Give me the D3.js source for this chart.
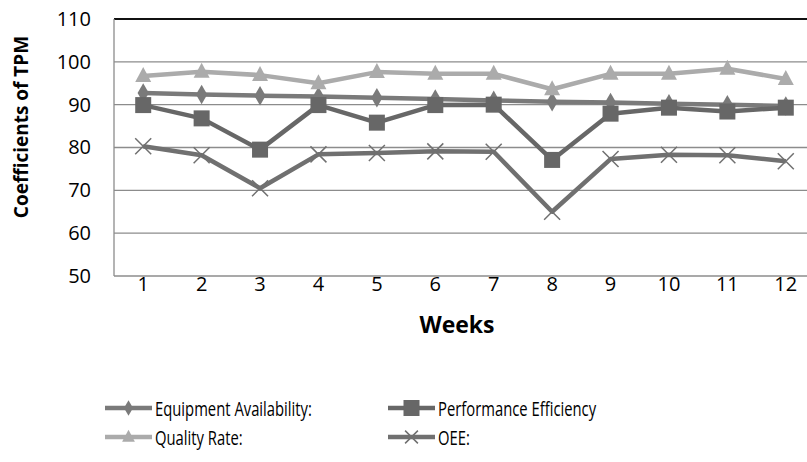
<!DOCTYPE html>
<html><head><meta charset="utf-8">
<script src="https://cdn.jsdelivr.net/npm/d3@7"></script>
<style>body{margin:0;background:#fff}svg{display:block}text{font-family:"Open Sans",sans-serif}</style>
</head><body>
<svg id="c" width="807" height="462"></svg>
<script>
const weeks = [1,2,3,4,5,6,7,8,9,10,11,12];
const equipmentAvailability = [92.7,92.4,92.1,91.9,91.6,91.3,91.0,90.7,90.5,90.2,90.0,89.7];
const performanceEfficiency = [89.9,86.8,79.5,89.9,85.8,89.9,90.0,77.1,87.9,89.3,88.4,89.3];
const qualityRate = [96.7,97.7,96.9,95.0,97.6,97.2,97.2,93.6,97.2,97.2,98.4,96.0];
const oee = [80.3,78.2,70.5,78.4,78.7,79.1,79.0,65.0,77.3,78.3,78.2,76.8];
const yTicks = [50,60,70,80,90,100,110];
const seriesNames = ["Equipment Availability:","Performance Efficiency","Quality Rate:","OEE:"];

const svg = d3.select("#c");
const L=114, R=815, T=19, B=276;
const x = d3.scaleBand().domain(weeks).range([L,R]);
const cx = d => x(d)+x.bandwidth()/2;
const y = d3.scaleLinear().domain([50,110]).range([B,T]);

svg.append("g").selectAll("line").data(yTicks).join("line")
  .attr("x1",L).attr("x2",807).attr("y1",d=>y(d)).attr("y2",d=>y(d))
  .attr("stroke",d=>d===110?"#111":"#8c8c8c").attr("stroke-width",d=>d===110?2:1.3);
svg.append("line").attr("x1",L).attr("x2",L).attr("y1",T).attr("y2",B).attr("stroke","#8c8c8c").attr("stroke-width",1.3);

const yAxis = d3.axisLeft(y).tickValues(yTicks).tickSize(0).tickPadding(0);
const gy = svg.append("g").attr("transform",`translate(${L-23},0)`).call(yAxis);
gy.select(".domain").remove();
gy.selectAll("text").attr("font-size",20).attr("fill","#000").attr("font-family","Open Sans, sans-serif");
const xAxis = d3.axisBottom(x).tickSize(0).tickPadding(0);
const gx = svg.append("g").attr("transform",`translate(0,${B+1})`).call(xAxis);
gx.select(".domain").remove();
gx.selectAll("text").attr("font-size",20).attr("fill","#000").attr("font-family","Open Sans, sans-serif");

svg.append("text").attr("x",457).attr("y",333).attr("text-anchor","middle")
  .attr("font-size",23).attr("font-weight","bold").text("Weeks");
svg.append("text").attr("transform","translate(28,127) rotate(-90)").attr("text-anchor","middle")
  .attr("font-size",19).attr("font-weight","bold").text("Coefficients of TPM");

const line = d3.line().x((d,i)=>cx(weeks[i])).y(d=>y(d));
const series = [
  {name:seriesNames[0], data:equipmentAvailability, color:"#7a7a7a", marker:"diamond"},
  {name:seriesNames[1], data:performanceEfficiency, color:"#676767", marker:"square"},
  {name:seriesNames[2], data:qualityRate, color:"#ababab", marker:"triangle"},
  {name:seriesNames[3], data:oee, color:"#707070", marker:"x"}
];
function drawMarker(g, type, color, px, py, s){
  s = s||1;
  if(type==="diamond"){
    g.append("path").attr("d",d3.symbol(d3.symbolDiamond, 110*s*s)()).attr("transform",`translate(${px},${py})`).attr("fill",color);
  } else if(type==="square"){
    g.append("rect").attr("x",px-8*s).attr("y",py-8*s).attr("width",16*s).attr("height",16*s).attr("fill",color);
  } else if(type==="triangle"){
    const h=15*s, w=16*s;
    g.append("path").attr("d",`M${px},${py-h*0.6}L${px+w/2},${py+h*0.4}L${px-w/2},${py+h*0.4}Z`).attr("fill",color);
  } else {
    const r=8*s;
    g.append("path").attr("d",`M${px-r},${py-r}L${px+r},${py+r}M${px-r},${py+r}L${px+r},${py-r}`).attr("stroke",color).attr("stroke-width",1.5).attr("fill","none");
  }
}
series.forEach(s=>{
  const g = svg.append("g");
  g.append("path").datum(s.data).attr("d",line).attr("fill","none").attr("stroke",s.color).attr("stroke-width",4.5).attr("stroke-linejoin","round");
  s.data.forEach((v,i)=>drawMarker(g,s.marker,s.color,cx(weeks[i]),y(v)));
});

const legPos = [[105,408],[388,408],[105,437],[388,437]];
let sx = 1;
series.forEach((s,i)=>{
  const [lx,ly]=legPos[i];
  const g=svg.append("g");
  g.append("line").attr("x1",lx).attr("x2",lx+47).attr("y1",ly).attr("y2",ly).attr("stroke",s.color).attr("stroke-width",4.5);
  drawMarker(g,s.marker,s.color,lx+23.5,ly,s.marker==="square"?1.0:0.8);
  const t = g.append("text").attr("font-size",20.5).attr("fill","#000").text(s.name);
  if(i===0){ sx = 157 / t.node().getComputedTextLength(); }
  t.attr("transform",`translate(${lx+50},${ly+7.5}) scale(${sx},1)`);
});
</script>
</body></html>
